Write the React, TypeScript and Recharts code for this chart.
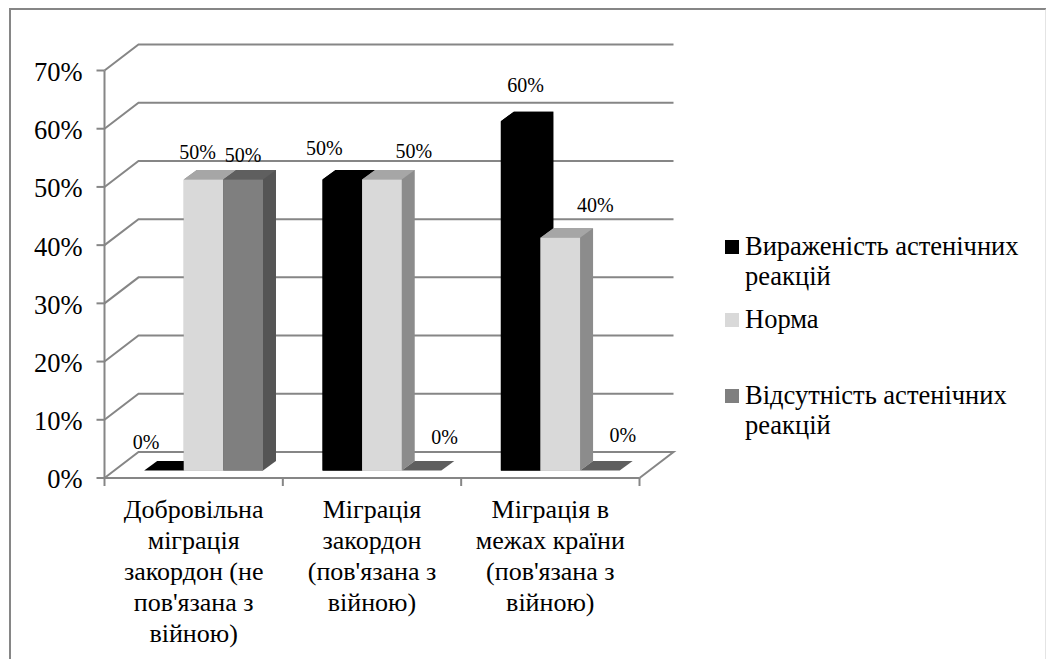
import React from "react";
import { BarChart, Bar, XAxis, YAxis, CartesianGrid, LabelList, Legend } from "recharts";

const categories = [
  "Добровільна міграція закордон (не пов'язана з війною)",
  "Міграція закордон (пов'язана з війною)",
  "Міграція в межах країни (пов'язана з війною)",
];
const categoryLines = [
  ["Добровільна", "міграція", "закордон (не", "пов'язана з", "війною)"],
  ["Міграція", "закордон", "(пов'язана з", "війною)"],
  ["Міграція в", "межах країни", "(пов'язана з", "війною)"],
];
const expressed = [0, 50, 60];
const norm = [50, 50, 40];
const absent = [50, 0, 0];
const yTicks = [0, 10, 20, 30, 40, 50, 60, 70];
const seriesNames = ["Вираженість астенічних реакцій", "Норма", "Відсутність астенічних реакцій"];
const legendLines = [
  ["Вираженість астенічних", "реакцій"],
  ["Норма"],
  ["Відсутність астенічних", "реакцій"],
];

const data = categories.map((name, i) => ({ name, expressed: expressed[i], norm: norm[i], absent: absent[i] }));

const FONT = "'Liberation Serif', serif";
const GRID = "#868686";
const W = 1046, H = 659;
const LEFT = 104.5, RIGHT = 639.5, TOP = 70.5, BOTTOM = 478;
const BAND = (RIGHT - LEFT) / 3;
const WALL_DX = 34, WALL_DY = -26;
const SHIFT_X = 9.7, SHIFT_Y = -7.4;
const DEPTH_X = 13, DEPTH_Y = -9.6;

const palettes = [
  { front: "#000000", top: "#000000", side: "#000000" },
  { front: "#d9d9d9", top: "#a6a6a6", side: "#8c8c8c" },
  { front: "#7f7f7f", top: "#5f5f5f", side: "#555555" },
];

const Bar3D = (p: any, s: number) => {
  const c = palettes[s];
  const x = p.x + SHIFT_X, w = p.width, y = p.y + SHIFT_Y, h = p.height;
  const pts = (a: number[][]) => a.map((q) => q.join(",")).join(" ");
  return (
    <g>
      {h > 0 && (
        <polygon
          points={pts([[x, y], [x + DEPTH_X, y + DEPTH_Y], [x + w + DEPTH_X, y + DEPTH_Y], [x + w + DEPTH_X, y + h + DEPTH_Y], [x + w, y + h], [x, y + h]])}
          fill={c.side}
        />
      )}
      <polygon points={pts([[x, y], [x + DEPTH_X, y + DEPTH_Y], [x + w + DEPTH_X, y + DEPTH_Y], [x + w, y]])} fill={c.top} />
      {h > 0 && <rect x={x} y={y} width={w} height={h} fill={c.front} />}
    </g>
  );
};

// The labels were placed by hand in the original: offset from each bar's centre and top.
const labelNudge = [
  [[-18, -28], [-18, -31], [5, -35]],
  [[-6, -27], [32, -28], [35, -32]],
  [[0, -24], [23, -33], [23, -35]],
];

const makeLabel = (s: number) => (p: any) => {
  const [dx, dy] = labelNudge[s][p.index];
  return (
    <text x={p.x + SHIFT_X + p.width / 2 + dx} y={p.y + SHIFT_Y + dy + 6} textAnchor="middle" fontFamily={FONT} fontSize={20} fill="#000">
      {`${p.value}%`}
    </text>
  );
};

const GridLine = (p: any) => {
  const isFloor = p.y1 >= BOTTOM - 1;
  return (
    <g>
      <polyline
        points={`${p.x1},${p.y1} ${p.x1 + WALL_DX},${p.y1 + WALL_DY} ${p.x2 + WALL_DX},${p.y2 + WALL_DY}${isFloor ? ` ${p.x2},${p.y2}` : ""}`}
        fill="none"
        stroke={GRID}
        strokeWidth={2}
      />
    </g>
  );
};

const CategoryTick = (p: any) => {
  const lines = categoryLines[p.index] || [];
  const last = p.index === categories.length - 1;
  return (
    <g>
      <line x1={p.x - BAND / 2} x2={p.x - BAND / 2} y1={BOTTOM} y2={BOTTOM + 8} stroke={GRID} strokeWidth={2} />
      {last && <line x1={p.x + BAND / 2} x2={p.x + BAND / 2} y1={BOTTOM} y2={BOTTOM + 8} stroke={GRID} strokeWidth={2} />}
      {lines.map((l: string, i: number) => (
        <text key={i} x={p.x} y={518 + i * 31} textAnchor="middle" fontFamily={FONT} fontSize={26} fill="#000">
          {l}
        </text>
      ))}
    </g>
  );
};

const legendRows = [247, 320, 396];
const LegendContent = () => (
  <div style={{ position: "relative", width: 346, height: 230, fontFamily: FONT, fontSize: 26.5, color: "#000" }}>
    {seriesNames.map((n, i) => (
      <div key={n}>
        <div style={{ position: "absolute", left: 25, top: legendRows[i] - 227, width: 14, height: 14, background: palettes[i].front }} />
        {legendLines[i].map((l, j) => (
          <div key={j} style={{ position: "absolute", left: 45, top: legendRows[i] - 221 + j * 30 - 15, lineHeight: "30px", whiteSpace: "nowrap" }}>
            {l}
          </div>
        ))}
      </div>
    ))}
  </div>
);

export default function App() {
  return (
    <div style={{ position: "absolute", left: 0, top: 0, width: W, height: H, background: "#fff", overflow: "hidden" }}>
      <div style={{ position: "absolute", left: 9, top: 8, width: 1034, height: 660, borderLeft: `2px solid ${GRID}`, borderTop: `2px solid ${GRID}`, borderRight: "2px solid #e4e4e4" }} />
      <BarChart
        width={W}
        height={H}
        data={data}
        barSize={39.6}
        barGap={0}
        margin={{ left: 0, right: W - RIGHT, top: TOP, bottom: 0 }}
        style={{ position: "absolute", left: 0, top: 0 }}
      >
        <CartesianGrid vertical={false} horizontal={(p: any) => <GridLine key={p.key} {...p} />} />
        <XAxis
          dataKey="name"
          interval={0}
          height={H - BOTTOM}
          axisLine={{ stroke: GRID, strokeWidth: 2 }}
          tickLine={false}
          tick={(p: any) => <CategoryTick {...p} />}
        />
        <YAxis
          type="number"
          domain={[0, 70]}
          ticks={yTicks}
          interval={0}
          width={LEFT}
          tickSize={8}
          tickMargin={14}
          tickFormatter={(v: number) => `${v}%`}
          axisLine={{ stroke: GRID, strokeWidth: 2 }}
          tickLine={{ stroke: GRID, strokeWidth: 2 }}
          tick={{ fontFamily: FONT, fontSize: 26.5, fill: "#000", dy: 1 }}
        />
        <Legend
          layout="horizontal"
          verticalAlign="middle"
          align="center"
          wrapperStyle={{ position: "absolute", left: 700, top: 220, width: 346 }}
          content={() => <LegendContent />}
        />
        <Bar dataKey="expressed" name={seriesNames[0]} isAnimationActive={false} shape={(p: any) => Bar3D(p, 0)}>
          <LabelList dataKey="expressed" content={makeLabel(0)} />
        </Bar>
        <Bar dataKey="norm" name={seriesNames[1]} isAnimationActive={false} shape={(p: any) => Bar3D(p, 1)}>
          <LabelList dataKey="norm" content={makeLabel(1)} />
        </Bar>
        <Bar dataKey="absent" name={seriesNames[2]} isAnimationActive={false} shape={(p: any) => Bar3D(p, 2)}>
          <LabelList dataKey="absent" content={makeLabel(2)} />
        </Bar>
      </BarChart>
    </div>
  );
}
